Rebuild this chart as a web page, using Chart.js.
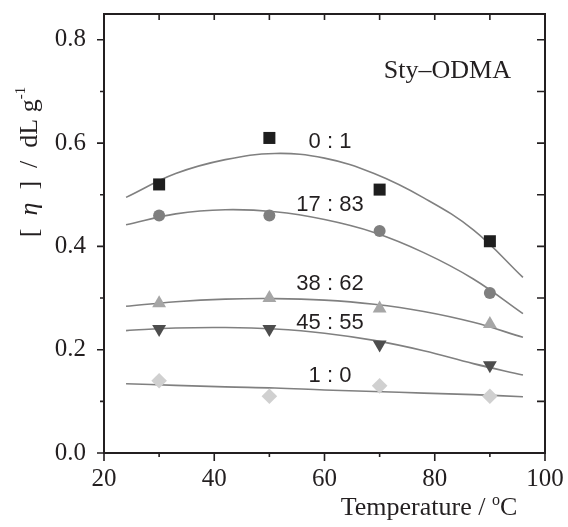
<!DOCTYPE html>
<html>
<head>
<meta charset="utf-8">
<script src="https://cdn.jsdelivr.net/npm/chart.js@4/dist/chart.umd.min.js"></script>
<style>
  html, body { margin: 0; padding: 0; background: #fff; }
  #wrap { width: 568px; height: 527px; position: relative; }
</style>
</head>
<body>
<div id="wrap"><canvas id="chart"></canvas></div>
<script>
// measured points (temperature in degC, intrinsic viscosity dL/g)
const temps = [30, 50, 70, 90];
const ratios = ['0 : 1', '17 : 83', '38 : 62', '45 : 55', '1 : 0'];
const eta_0_1 = [0.52, 0.61, 0.51, 0.41];
const eta_17_83 = [0.46, 0.46, 0.43, 0.31];
const eta_38_62 = [0.29, 0.30, 0.28, 0.25];
const eta_45_55 = [0.24, 0.24, 0.21, 0.17];
const eta_1_0 = [0.14, 0.11, 0.13, 0.11];

// fitted curves
const fitT = [24, 33, 42, 51, 60, 69, 78, 87, 96];
const fit_0_1 = [0.495, 0.541, 0.568, 0.580, 0.571, 0.541, 0.494, 0.432, 0.340];
const fit_17_83 = [0.442, 0.463, 0.471, 0.467, 0.452, 0.427, 0.388, 0.337, 0.270];
const fit_38_62 = [0.284, 0.293, 0.298, 0.299, 0.296, 0.288, 0.274, 0.253, 0.224];
const fit_45_55 = [0.237, 0.242, 0.243, 0.240, 0.232, 0.218, 0.198, 0.173, 0.151];
const fit_1_0 = [0.134, 0.131, 0.128, 0.126, 0.122, 0.119, 0.116, 0.113, 0.109];

const xTicks = [20, 40, 60, 80, 100];
const xMinor = [30, 50, 70, 90];
const yTicks = [0.0, 0.2, 0.4, 0.6, 0.8];
const yMinor = [0.1, 0.3, 0.5, 0.7];

// where the ratio labels sit (data coords, text baseline)
const labelT = [61, 61, 61, 61, 61];
const labelEta = [0.591, 0.469, 0.315, 0.241, 0.138];

const pts = (xs, ys) => xs.map((x, i) => ({ x: x, y: ys[i] }));

const serif = '"Liberation Serif", "Times New Roman", serif';
const sans = '"Liberation Sans", Arial, sans-serif';
const axisColor = '#231f20';
const lineColor = '#808080';

const markers = [
    { data: eta_0_1, style: 'rect', r: 8.5, rot: 0, color: '#1e1e1e' },
    { data: eta_17_83, style: 'circle', r: 6, rot: 0, color: '#7f7f7f' },
    { data: eta_38_62, style: 'triangle', r: 8, rot: 0, color: '#a6a6a6' },
    { data: eta_45_55, style: 'triangle', r: 8, rot: 180, color: '#4d4d4d' },
    { data: eta_1_0, style: 'rectRot', r: 7.8, rot: 0, color: '#d0d0d0' }
];
const fits = [fit_0_1, fit_17_83, fit_38_62, fit_45_55, fit_1_0];

const datasets = [];
fits.forEach(f => {
    datasets.push({
        data: pts(fitT, f),
        showLine: true,
        borderColor: lineColor,
        borderWidth: 1.6,
        pointRadius: 0,
        tension: 0.4,
        fill: false,
        order: 2
    });
});
markers.forEach(m => {
    datasets.push({
        data: pts(temps, m.data),
        showLine: false,
        pointStyle: m.style,
        pointRadius: m.r,
        pointRotation: m.rot,
        backgroundColor: m.color,
        borderColor: m.color,
        borderWidth: 0,
        order: 1
    });
});

const framePlugin = {
    id: 'frame',
    afterDraw(chart) {
        const ctx = chart.ctx;
        const xs = chart.scales.x, ys = chart.scales.y;
        const a = chart.chartArea;
        ctx.save();
        ctx.strokeStyle = axisColor;
        ctx.lineWidth = 2;
        ctx.strokeRect(a.left, a.top, a.right - a.left, a.bottom - a.top);

        ctx.lineWidth = 1.6;
        ctx.beginPath();
        xTicks.forEach(v => {
            const px = xs.getPixelForValue(v);
            ctx.moveTo(px, a.bottom); ctx.lineTo(px, a.bottom + 8);
            ctx.moveTo(px, a.top); ctx.lineTo(px, a.top + 6);
        });
        xMinor.forEach(v => {
            const px = xs.getPixelForValue(v);
            ctx.moveTo(px, a.bottom); ctx.lineTo(px, a.bottom + 4);
            ctx.moveTo(px, a.top); ctx.lineTo(px, a.top + 6);
        });
        yTicks.forEach(v => {
            const py = ys.getPixelForValue(v);
            ctx.moveTo(a.left, py); ctx.lineTo(a.left - 7, py);
            ctx.moveTo(a.right, py); ctx.lineTo(a.right - 8, py);
        });
        yMinor.forEach(v => {
            const py = ys.getPixelForValue(v);
            ctx.moveTo(a.left, py); ctx.lineTo(a.left - 4, py);
            ctx.moveTo(a.right, py); ctx.lineTo(a.right - 8, py);
        });
        ctx.stroke();

        // ratio labels
        ctx.fillStyle = '#231f20';
        ctx.font = '22px ' + sans;
        ctx.textAlign = 'center';
        ctx.textBaseline = 'alphabetic';
        ratios.forEach((t, i) => {
            ctx.fillText(t, xs.getPixelForValue(labelT[i]), ys.getPixelForValue(labelEta[i]));
        });

        ctx.font = '26px ' + serif;
        ctx.fillText('Sty\u2013ODMA', xs.getPixelForValue(82.3), ys.getPixelForValue(0.727));

        // x title with superscript o
        const xt = 'Temperature / ';
        ctx.font = '26px ' + serif;
        const w1 = ctx.measureText(xt).width;
        ctx.font = '16px ' + serif;
        const w2 = ctx.measureText('o').width;
        ctx.font = '26px ' + serif;
        const w3 = ctx.measureText('C').width;
        let x0 = 429 - (w1 + w2 + w3) / 2;
        const by = 515;
        ctx.textAlign = 'left';
        ctx.fillText(xt, x0, by);
        ctx.font = '16px ' + serif;
        ctx.fillText('o', x0 + w1, by - 10);
        ctx.font = '26px ' + serif;
        ctx.fillText('C', x0 + w1 + w2, by);

        // y title, rotated
        ctx.translate(37, 162);
        ctx.rotate(-Math.PI / 2);
        const parts = [
            { t: '[  ', f: '26px ' + serif, dy: 0 },
            { t: '\u03b7', f: 'italic 26px ' + serif, dy: 0 },
            { t: '  ]  /  dL g', f: '26px ' + serif, dy: 0 },
            { t: '-1', f: '15px ' + serif, dy: -12 }
        ];
        let total = 0;
        parts.forEach(p => { ctx.font = p.f; p.w = ctx.measureText(p.t).width; total += p.w; });
        let cx = -total / 2;
        parts.forEach(p => {
            ctx.font = p.f;
            ctx.fillText(p.t, cx, p.dy);
            cx += p.w;
        });
        ctx.restore();
    }
};

new Chart(document.getElementById('chart'), {
    type: 'scatter',
    data: { datasets: datasets },
    options: {
        responsive: true,
        maintainAspectRatio: false,
        animation: false,
        layout: { padding: { top: 14, right: 23, left: 0, bottom: 0 } },
        plugins: {
            legend: { display: false },
            tooltip: { enabled: false }
        },
        scales: {
            x: {
                type: 'linear',
                min: 20,
                max: 100,
                afterBuildTicks: s => { s.ticks = xTicks.map(v => ({ value: v })); },
                afterFit: s => { s.height = 74; s.paddingLeft = 0; s.paddingRight = 0; },
                grid: { display: false, drawTicks: false },
                border: { display: false },
                ticks: {
                    color: '#231f20',
                    padding: 11,
                    maxRotation: 0,
                    font: { family: serif, size: 25 },
                    callback: v => String(v)
                }
            },
            y: {
                type: 'linear',
                min: 0,
                max: 0.85,
                afterBuildTicks: s => { s.ticks = yTicks.map(v => ({ value: v })); },
                afterFit: s => { s.width = 104; s.paddingTop = 0; s.paddingBottom = 0; },
                grid: { display: false, drawTicks: false },
                border: { display: false },
                ticks: {
                    color: '#231f20',
                    padding: 18,
                    font: { family: serif, size: 25 },
                    callback: v => v.toFixed(1)
                }
            }
        }
    },
    plugins: [framePlugin]
});
</script>
</body>
</html>
